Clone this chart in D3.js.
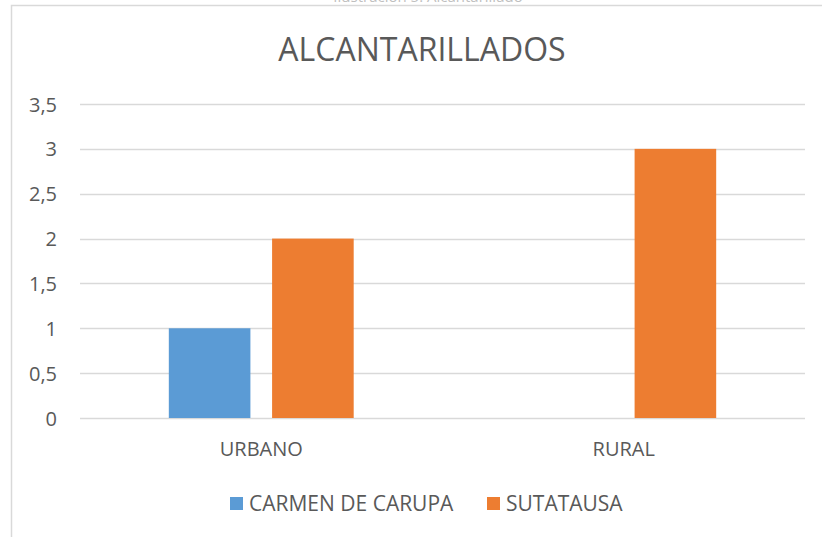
<!DOCTYPE html>
<html>
<head>
<meta charset="utf-8">
<script src="https://cdn.jsdelivr.net/npm/d3@7"></script>
<style>
	body { margin: 0; background: #fff; }
	svg { display: block; }
	text { font-family: "Open Sans", "Noto Sans", sans-serif; fill: #595959; }
</style>
</head>
<body>
<svg id="chart" width="822" height="537"></svg>
<script>
const categories = ['URBANO', 'RURAL'];
const seriesNames = ['CARMEN DE CARUPA', 'SUTATAUSA'];
const carmenValues = [1, 0];
const sutatausaValues = [2, 3];
const yTicks = [0, 0.5, 1, 1.5, 2, 2.5, 3, 3.5];
const colors = ['#5b9bd5', '#ed7d31'];

const svg = d3.select('#chart');
const W = 822, H = 537;

const plot = {left: 80, right: 805, top: 104, bottom: 418};

// chart frame
svg.append('path')
	.attr('d', 'M11.5,' + H + ' L11.5,5.5 L' + W + ',5.5')
	.attr('fill', 'none')
	.attr('stroke', '#d9d9d9')
	.attr('stroke-width', 1.5);

// cut-off caption above the frame
svg.append('text')
	.attr('x', 428).attr('y', 2)
	.attr('text-anchor', 'middle')
	.style('font-size', '15px')
	.style('fill', '#bfbfbf')
	.text('Ilustración 5. Alcantarillado');

const x0 = d3.scaleBand()
	.domain(categories)
	.range([plot.left, plot.right]);

const x1 = d3.scaleBand()
	.domain(seriesNames)
	.range([x0.bandwidth() * 0.245, x0.bandwidth() * 0.755])
	.paddingInner(0.21);

const y = d3.scaleLinear()
	.domain([0, 3.5])
	.range([plot.bottom, plot.top]);

// grid
svg.append('g')
	.attr('class', 'grid')
	.selectAll('line')
	.data(yTicks)
	.enter().append('line')
	.attr('x1', plot.left).attr('x2', plot.right)
	.attr('y1', d => Math.round(y(d)) + 0.5)
	.attr('y2', d => Math.round(y(d)) + 0.5)
	.attr('stroke', '#d9d9d9')
	.attr('stroke-width', 1.3);

// y axis labels
const yAxis = d3.axisLeft(y)
	.tickValues(yTicks)
	.tickSize(0)
	.tickPadding(0)
	.tickFormat(d => String(d).replace('.', ','));

const yg = svg.append('g')
	.attr('transform', 'translate(57,0)')
	.call(yAxis);
yg.select('.domain').remove();
yg.selectAll('text')
	.style('font-size', '20px')
	.style('fill', '#595959')
	.attr('dy', '0.35em');

// bars
const rows = categories.map((c, i) => ({
	category: c,
	values: [carmenValues[i], sutatausaValues[i]]
}));

const groups = svg.append('g')
	.selectAll('.bar-group')
	.data(rows)
	.enter().append('g')
	.attr('class', 'bar-group')
	.attr('transform', d => 'translate(' + x0(d.category) + ',0)');

groups.selectAll('rect')
	.data(d => d.values.map((v, i) => ({series: seriesNames[i], value: v, i: i})))
	.enter().append('rect')
	.attr('x', d => x1(d.series))
	.attr('width', x1.bandwidth())
	.attr('y', d => y(d.value))
	.attr('height', d => y(0) - y(d.value))
	.attr('fill', d => colors[d.i]);

// x axis labels
const xAxis = d3.axisBottom(x0).tickSize(0).tickPadding(0);
const xg = svg.append('g')
	.attr('transform', 'translate(0,' + 449 + ')')
	.call(xAxis);
xg.select('.domain').remove();
xg.selectAll('text')
	.style('font-size', '20px')
	.style('fill', '#595959')
	.attr('dy', '0.35em');

// title
svg.append('text')
	.attr('x', 422).attr('y', 50)
	.attr('dy', '0.35em')
	.attr('text-anchor', 'middle')
	.style('font-size', '32px')
	.text('ALCANTARILLADOS');

// legend
const legendX = [230, 487];
const legend = svg.append('g')
	.selectAll('.legend-item')
	.data(seriesNames)
	.enter().append('g')
	.attr('class', 'legend-item')
	.attr('transform', (d, i) => 'translate(' + legendX[i] + ',497)');

legend.append('rect')
	.attr('width', 13).attr('height', 13)
	.attr('fill', (d, i) => colors[i]);

legend.append('text')
	.attr('x', 19).attr('y', 7)
	.attr('dy', '0.35em')
	.style('font-size', '21px')
	.text(d => d);
</script>
</body>
</html>
